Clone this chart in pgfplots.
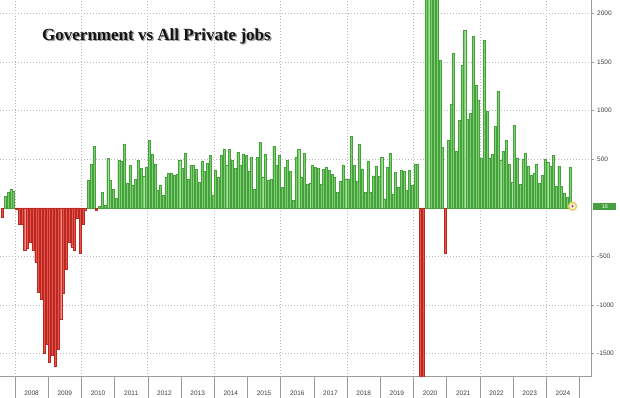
\documentclass[border=0pt]{standalone}
\usepackage{pgfplots}
\pgfplotsset{compat=1.18}
\usepackage{pgfplotstable}
\usepackage{fontspec}
\setmainfont{Liberation Sans}
\newfontfamily\titlefont{Liberation Serif}
\definecolor{barG}{RGB}{126,208,112}
\definecolor{barGd}{RGB}{70,160,62}
\definecolor{barR}{RGB}{232,86,74}
\definecolor{barRd}{RGB}{186,40,36}
\definecolor{gridc}{RGB}{185,185,185}
\definecolor{axc}{RGB}{150,158,150}
\definecolor{lblc}{RGB}{60,60,60}

\pgfplotstableread{
year m v
2007 8 -97
2007 9 116
2007 10 158
2007 11 190
2007 12 175
2008 1 -10
2008 2 -165
2008 3 -170
2008 4 -440
2008 5 -420
2008 6 -350
2008 7 -440
2008 8 -560
2008 9 -870
2008 10 -940
2008 11 -1500
2008 12 -1400
2009 1 -1590
2009 2 -1520
2009 3 -1630
2009 4 -1450
2009 5 -1150
2009 6 -880
2009 7 -630
2009 8 -350
2009 9 -400
2009 10 -440
2009 11 -110
2009 12 -470
2010 1 -165
2010 2 -20
2010 3 280
2010 4 452
2010 5 633
2010 6 -25
2010 7 15
2010 8 160
2010 9 30
2010 10 510
2010 11 280
2010 12 195
2011 1 100
2011 2 487
2011 3 476
2011 4 658
2011 5 257
2011 6 435
2011 7 230
2011 8 298
2011 9 487
2011 10 408
2011 11 325
2011 12 418
2012 1 692
2012 2 555
2012 3 452
2012 4 178
2012 5 236
2012 6 127
2012 7 315
2012 8 360
2012 9 360
2012 10 339
2012 11 350
2012 12 487
2013 1 408
2013 2 565
2013 3 298
2013 4 435
2013 5 442
2013 6 394
2013 7 264
2013 8 476
2013 9 374
2013 10 463
2013 11 538
2013 12 134
2014 1 384
2014 2 315
2014 3 545
2014 4 607
2014 5 435
2014 6 607
2014 7 487
2014 8 408
2014 9 572
2014 10 435
2014 11 555
2014 12 538
2015 1 374
2015 2 521
2015 3 195
2015 4 521
2015 5 675
2015 6 315
2015 7 555
2015 8 281
2015 9 298
2015 10 634
2015 11 435
2015 12 538
2016 1 212
2016 2 418
2016 3 487
2016 4 374
2016 5 75
2016 6 521
2016 7 600
2016 8 310
2016 9 565
2016 10 247
2016 11 257
2016 12 435
2017 1 418
2017 2 408
2017 3 247
2017 4 401
2017 5 418
2017 6 384
2017 7 350
2017 8 315
2017 9 161
2017 10 271
2017 11 442
2017 12 298
2018 1 298
2018 2 737
2018 3 442
2018 4 271
2018 5 658
2018 6 401
2018 7 161
2018 8 476
2018 9 161
2018 10 330
2018 11 430
2018 12 326
2019 1 521
2019 2 93
2019 3 418
2019 4 562
2019 5 144
2019 6 367
2019 7 212
2019 8 391
2019 9 377
2019 10 178
2019 11 384
2019 12 236
2020 1 452
2020 2 452
2020 3 -2500
2020 4 -2500
2020 5 3000
2020 6 3000
2020 7 3000
2020 8 3000
2020 9 3000
2020 10 1520
2020 11 620
2020 12 -470
2021 1 692
2021 2 1069
2021 3 1590
2021 4 583
2021 5 898
2021 6 1463
2021 7 1823
2021 8 915
2021 9 973
2021 10 1761
2021 11 1258
2021 12 1110
2022 1 514
2022 2 1727
2022 3 994
2022 4 514
2022 5 548
2022 6 836
2022 7 1200
2022 8 493
2022 9 583
2022 10 692
2022 11 445
2022 12 264
2023 1 846
2023 2 514
2023 3 240
2023 4 504
2023 5 562
2023 6 425
2023 7 332
2023 8 356
2023 9 446
2023 10 254
2023 11 332
2023 12 504
2024 1 470
2024 2 425
2024 3 545
2024 4 219
2024 5 425
2024 6 219
2024 7 151
2024 8 110
2024 9 418
2024 10 16
}\jobs

\begin{document}
\begin{tikzpicture}
\path[use as bounding box] (0,0) rectangle (620pt,398pt);
\begin{axis}[
  at={(0pt,21.3pt)}, anchor=south west,
  scale only axis, width=591.7pt, height=376.7pt,
  xmin=2007.548, xmax=2025.367, ymin=-1737, ymax=2137,
  axis x line*=bottom, axis y line*=right,
  axis line style={axc, line width=0.6pt},
  tick align=outside,
  major tick length=2pt,
  xtick={2008.5,2009.5,2010.5,2011.5,2012.5,2013.5,2014.5,2015.5,2016.5,2017.5,2018.5,2019.5,2020.5,2021.5,2022.5,2023.5,2024.5},
  xticklabels={2008,2009,2010,2011,2012,2013,2014,2015,2016,2017,2018,2019,2020,2021,2022,2023,2024},
  x tick style={draw=none},
  xticklabel style={font=\fontsize{6.5}{7}\selectfont, text=lblc, anchor=center, yshift=-14.5pt},
  extra x ticks={2008,2009,2010,2011,2012,2013,2014,2015,2016,2017,2018,2019,2020,2021,2022,2023,2024,2025},
  extra x tick labels={},
  extra x tick style={major tick length=21.3pt, tick align=outside, x tick style={draw=axc, line width=0.6pt}},
  minor xtick={2008,2010,2012,2014,2016,2018,2020,2022,2024},
  minor tick length=0pt,
  xminorgrids=true,
  ymajorgrids=true,
  ytick={-1500,-1000,-500,500,1000,1500,2000},
  yticklabels={-1500,-1000,-500,500,1000,1500,2000},
  y tick style={draw=axc, line width=0.6pt},
  yticklabel style={font=\fontsize{6.5}{7}\selectfont, text=lblc, xshift=0pt},
  major grid style={gridc, dash pattern=on 0.9pt off 2.1pt, line width=0.8pt},
  minor grid style={gridc, dash pattern=on 0.9pt off 2.1pt, line width=0.8pt},
]
\addplot[ybar, bar width=0.062, bar shift=0pt, fill=barG, draw=barGd, line width=0.35pt, y filter/.expression={y<0 ? nan : y}]
  table[x expr=\thisrow{year}+(\thisrow{m}-0.5)/12, y=v] {\jobs};
\addplot[ybar, bar width=0.062, bar shift=0pt, fill=barR, draw=barRd, line width=0.35pt, y filter/.expression={y>=0 ? nan : y}]
  table[x expr=\thisrow{year}+(\thisrow{m}-0.5)/12, y=v] {\jobs};
\addplot[only marks, mark=*, mark size=4pt, mark options={draw={rgb,255:red,232;green,204;blue,96}, fill={rgb,255:red,250;green,240;blue,205}, line width=1.4pt}] coordinates {(2024.79,16)};
\addplot[only marks, mark=*, mark size=0.9pt, mark options={draw={rgb,255:red,150;green,70;blue,160}, fill={rgb,255:red,150;green,70;blue,160}}] coordinates {(2024.79,16)};
\coordinate (lab) at (axis cs:2025.367,16);
\end{axis}
\node[anchor=west, fill=barGd, text=white, inner sep=0.6pt, minimum width=23pt, minimum height=7pt, font=\fontsize{5.5}{6}\selectfont] at ([xshift=1.5pt]lab) {16};
\node[anchor=base west, font=\titlefont\bfseries\fontsize{17}{19}\selectfont, text=black!40, inner sep=0pt] at (43.4pt,356.1pt) {Government vs All Private jobs};
\node[anchor=base west, font=\titlefont\bfseries\fontsize{17}{19}\selectfont, text=black!92, inner sep=0pt] at (42pt,357.5pt) {Government vs All Private jobs};
\end{tikzpicture}
\end{document}
